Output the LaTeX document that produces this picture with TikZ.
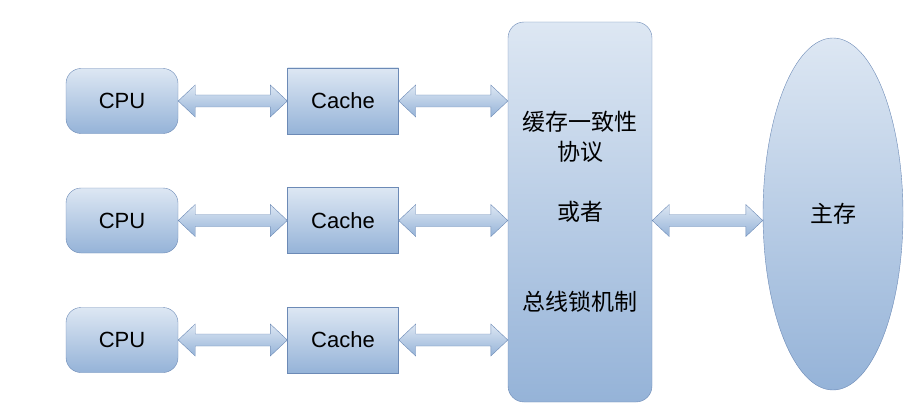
\documentclass[tikz,border=0pt]{standalone}
\usepackage{tikz}
\usetikzlibrary{calc,shapes.geometric}
\usepackage{fontspec}
\setmainfont{Liberation Sans}
\newfontfamily\cjk{Noto Sans CJK SC}
\usepackage{color}
\definecolor{boxtop}{RGB}{221,231,243}
\definecolor{boxbot}{RGB}{149,179,216}
\definecolor{boxline}{RGB}{108,138,182}

\begin{document}
\begin{tikzpicture}[x=1pt,y=-1pt,node distance=221pt,
    every node/.style={draw=boxline,top color=boxtop,bottom color=boxbot,
                       inner sep=0pt,font=\fontsize{22}{26}\selectfont},
    cpu/.style={rectangle,rounded corners=15pt,minimum width=112pt,minimum height=65pt},
    cache/.style={rectangle,minimum width=111pt,minimum height=66pt},
    bus/.style={rectangle,rounded corners=16pt,minimum width=144pt,minimum height=380pt,
                align=center,font=\cjk\fontsize{23}{30}\selectfont},
    mem/.style={ellipse,minimum width=140pt,minimum height=352pt,
                font=\cjk\fontsize{23}{26}\selectfont},
    every edge/.style={draw=boxline,top color=boxtop,bottom color=boxbot,
      to path={let \p1=(\tikztostart), \p2=(\tikztotarget) in
        (\p1) -- (\x1+17pt,\y1+16pt) -- (\x1+17pt,\y1+6pt) -- (\x2-17pt,\y1+6pt)
        -- (\x2-17pt,\y1+16pt) -- (\x2,\y1) -- (\x2-17pt,\y1-16pt) -- (\x2-17pt,\y1-6pt)
        -- (\x1+17pt,\y1-6pt) -- (\x1+17pt,\y1-16pt) -- cycle}}]

        \useasboundingbox (0,0) rectangle (917,417);

        \node[cpu]    (P01) at (122,101)                  {CPU};
        \node[cache]  (C01) [right of=P01]                {Cache};
        \node[cpu]    (P02) [below of=P01,node distance=119.5pt] {CPU};
        \node[cache]  (C02) [right of=P02]                {Cache};
        \node[cpu]    (P03) [below of=P02,node distance=119.5pt] {CPU};
        \node[cache]  (C03) [right of=P03]                {Cache};
        \node[bus]    (B01) at (580,212)  {缓存一致性\\协议\\[30pt]或者\\[60pt]总线锁机制};
        \node[mem]    (M01) at (833,214)  {主存};

        \path (P01.east) edge (C01.west)
              (P02.east) edge (C02.west)
              (P03.east) edge (C03.west)
              (C01.east) edge (B01.west)
              (C02.east) edge (B01.west)
              (C03.east) edge (B01.west)
              (B01.east |- P02.east) edge (M01.west);
      \end{tikzpicture}
\end{document}
